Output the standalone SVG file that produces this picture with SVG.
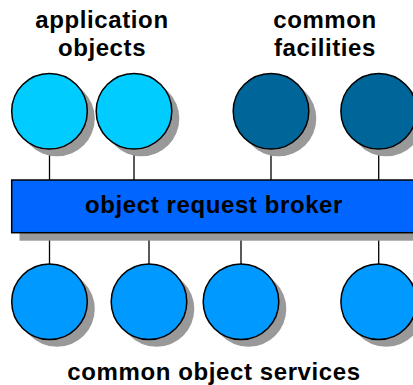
<svg xmlns="http://www.w3.org/2000/svg" width="413" height="385" viewBox="0 0 413 385">
  <style>
    .label { font-family: "Liberation Sans", Arial, sans-serif; font-weight: bold; font-size: 24px; letter-spacing: 0.6px; text-anchor: middle; fill: #000; }
    .shadow { fill: #999999; stroke: none; }
    .node { stroke: #000; stroke-width: 1.5; }
    .app { fill: #00CCFF; }
    .fac { fill: #006699; }
    .svc { fill: #0099FF; }
    .orb { fill: #0066FF; stroke: #000; stroke-width: 1.5; }
    .link { stroke: #000; stroke-width: 1.3; fill: none; }
  </style>

  <!-- group captions -->
  <text class="label" x="102" y="27.5">application</text>
  <text class="label" x="102" y="56">objects</text>
  <text class="label" x="325" y="27.5">common</text>
  <text class="label" x="325" y="56">facilities</text>
  <text class="label" x="214" y="380">common object services</text>

  <!-- connectors between objects and the broker bus -->
  <g id="connectors">
    <line class="link" x1="49.5" y1="149" x2="49.5" y2="180"/>
    <line class="link" x1="134" y1="149" x2="134" y2="180"/>
    <line class="link" x1="271" y1="149" x2="271" y2="180"/>
    <line class="link" x1="378.7" y1="149" x2="378.7" y2="180"/>
    <line class="link" x1="49.5" y1="233" x2="49.5" y2="264"/>
    <line class="link" x1="149" y1="233" x2="149" y2="264"/>
    <line class="link" x1="241" y1="233" x2="241" y2="264"/>
    <line class="link" x1="378.7" y1="233" x2="378.7" y2="264"/>
  </g>

  <!-- application objects -->
  <g id="app1">
    <circle class="shadow" cx="57" cy="118.5" r="37.8"/>
    <circle class="node app" cx="49.5" cy="111.2" r="37.8"/>
  </g>
  <g id="app2">
    <circle class="shadow" cx="141.5" cy="118.5" r="37.8"/>
    <circle class="node app" cx="134" cy="111.2" r="37.8"/>
  </g>

  <!-- common facilities -->
  <g id="fac1">
    <circle class="shadow" cx="278.5" cy="118.5" r="37.8"/>
    <circle class="node fac" cx="271" cy="111.2" r="37.8"/>
  </g>
  <g id="fac2">
    <circle class="shadow" cx="386.2" cy="118.5" r="37.8"/>
    <circle class="node fac" cx="378.7" cy="111.2" r="37.8"/>
  </g>

  <!-- object request broker bus -->
  <g id="orb">
    <rect class="shadow" x="19.5" y="188" width="400" height="52.7"/>
    <rect class="orb" x="11.7" y="180" width="410" height="52.7"/>
    <text class="label" x="214" y="213">object request broker</text>
  </g>

  <!-- common object services -->
  <g id="svc1">
    <circle class="shadow" cx="57" cy="309" r="37.8"/>
    <circle class="node svc" cx="49.5" cy="301.8" r="37.8"/>
  </g>
  <g id="svc2">
    <circle class="shadow" cx="156.5" cy="309" r="37.8"/>
    <circle class="node svc" cx="149" cy="301.8" r="37.8"/>
  </g>
  <g id="svc3">
    <circle class="shadow" cx="248.5" cy="309" r="37.8"/>
    <circle class="node svc" cx="241" cy="301.8" r="37.8"/>
  </g>
  <g id="svc4">
    <circle class="shadow" cx="386.2" cy="309" r="37.8"/>
    <circle class="node svc" cx="378.7" cy="301.8" r="37.8"/>
  </g>
</svg>
